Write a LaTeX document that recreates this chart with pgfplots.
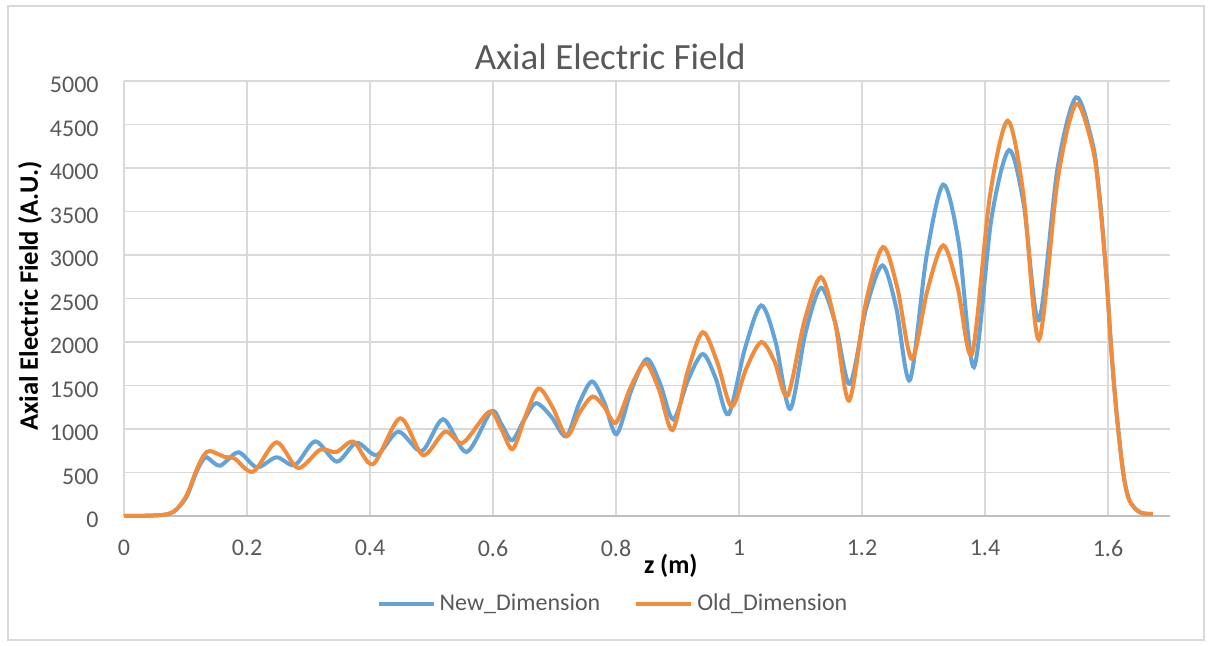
\documentclass[border=0pt]{standalone}
\usepackage{pgfplots}
\pgfplotsset{compat=1.18}
\usepackage{fontspec}
\setmainfont{Carlito}
\definecolor{newc}{RGB}{98,163,218}
\definecolor{oldc}{RGB}{240,140,60}
\definecolor{gridc}{RGB}{217,217,217}
\definecolor{txt}{RGB}{89,89,89}
\begin{document}
\begin{tikzpicture}
\useasboundingbox (0,0) rectangle (605pt,323pt);
\draw[gridc, line width=0.6pt] (4pt,3pt) rectangle (602pt,320pt);
\begin{axis}[
  at={(62pt,65pt)}, anchor=south west,
  scale only axis, width=522.75pt, height=217.5pt,
  xmin=0, xmax=1.7, ymin=0, ymax=5000,
  clip=false,
  xtick={0,0.2,0.4,0.6,0.8,1,1.2,1.4,1.6},
  xticklabels={0,0.2,0.4,0.6,0.8,1,1.2,1.4,1.6},
  ytick={0,500,1000,1500,2000,2500,3000,3500,4000,4500,5000},
  yticklabels={0,500,1000,1500,2000,2500,3000,3500,4000,4500,5000},
  grid=major, major grid style={draw=gridc, line width=0.9pt},
  major tick length=0pt,
  axis x line*=bottom, axis y line*=left,
  x axis line style={draw=black!25, line width=1pt, -},
  y axis line style={draw=gridc, line width=0.9pt, -},
  tick label style={font=\fontsize{12}{14}\selectfont, text=txt},
  xticklabel style={anchor=north, inner sep=0pt, yshift=-12pt},
  yticklabel style={anchor=east, inner sep=0pt, xshift=-12.5pt, yshift=-2pt},
  title={Axial Electric Field},
  title style={at={(axis description cs:0.465,1.0274)}, anchor=center, font=\fontsize{18.5}{22}\selectfont, text=txt},
  xlabel={\textbf{z (m)}},
  xlabel style={at={(axis description cs:0.523,-0.115)}, anchor=center, font=\fontsize{13}{15}\selectfont},
  ylabel={\textbf{Axial Electric Field (A.U.)}},
  ylabel style={at={(axis description cs:-0.0899,0.506)}, anchor=center, font=\fontsize{13.3}{15}\selectfont},
  legend columns=2,
  legend image code/.code={\draw[#1] (0pt,0pt) -- (27.5pt,0pt);},
  legend style={at={(axis description cs:0.4687,-0.2023)}, anchor=center, draw=none, fill=none,
    font=\fontsize{12}{14}\selectfont, text=txt,
    /tikz/every even column/.append style={column sep=15pt}},
]
\addplot[newc, line width=2pt, smooth] coordinates {
(0,0) (0.03,2) (0.06,10) (0.075,30) (0.086,80) (0.102,225) (0.118,510) (0.128,640) (0.135,674) (0.156,578) (0.186,732) (0.216,559) (0.248,674) (0.278,586) (0.311,858) (0.346,625) (0.378,842) (0.411,700) (0.446,969) (0.484,745) (0.519,1112) (0.557,735) (0.597,1200) (0.614,1052) (0.631,870) (0.6505,1104) (0.670,1296) (0.6945,1144) (0.719,915) (0.740,1294) (0.761,1546) (0.781,1304) (0.801,940) (0.8255,1458) (0.850,1804) (0.8715,1526) (0.893,1110) (0.917,1561) (0.941,1862) (0.962,1585) (0.983,1170) (1.0095,1920) (1.036,2420) (1.0595,2000) (1.083,1230) (1.108,2100) (1.133,2623) (1.1565,2220) (1.180,1518) (1.2065,2380) (1.233,2880) (1.2555,2400) (1.278,1564) (1.305,2990) (1.332,3809) (1.357,3150) (1.382,1711) (1.4105,3420) (1.439,4206) (1.463,3580) (1.4875,2249) (1.518,4000) (1.548,4812) (1.575,4280) (1.586,3700) (1.597,2800) (1.605,1950) (1.614,1180) (1.625,485) (1.635,178) (1.652,42) (1.673,23)
};
\addlegendentry{New\_Dimension}
\addplot[oldc, line width=2pt, smooth] coordinates {
(0,0) (0.03,2) (0.06,10) (0.075,30) (0.086,80) (0.102,240) (0.118,530) (0.130,700) (0.140,747) (0.164,678) (0.180,660) (0.210,509) (0.248,847) (0.283,551) (0.319,762) (0.345,735) (0.373,854) (0.405,596) (0.449,1123) (0.486,700) (0.522,969) (0.551,842) (0.594,1200) (0.613,1006) (0.632,769) (0.653,1152) (0.674,1465) (0.697,1247) (0.720,919) (0.741,1191) (0.762,1373) (0.781,1253) (0.800,1073) (0.824,1484) (0.848,1758) (0.870,1450) (0.892,988) (0.9165,1662) (0.941,2112) (0.9645,1770) (0.988,1258) (1.012,1700) (1.036,1998) (1.0575,1780) (1.079,1384) (1.106,2230) (1.133,2746) (1.156,2230) (1.179,1326) (1.2065,2460) (1.234,3091) (1.2575,2620) (1.281,1806) (1.3065,2600) (1.332,3111) (1.3555,2630) (1.379,1865) (1.408,3680) (1.437,4543) (1.462,3720) (1.4875,2026) (1.518,3860) (1.548,4735) (1.575,4230) (1.586,3660) (1.597,2780) (1.605,1940) (1.614,1174) (1.625,483) (1.635,177) (1.652,42) (1.673,23)
};
\addlegendentry{Old\_Dimension}
\end{axis}
\end{tikzpicture}
\end{document}
